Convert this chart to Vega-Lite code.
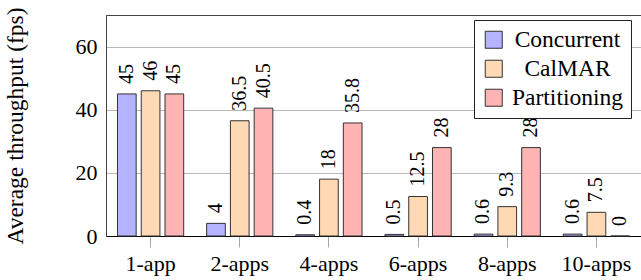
{
  "$schema": "https://vega.github.io/schema/vega-lite/v6.json",
  "autosize": "none",
  "width": 535,
  "height": 221,
  "padding": {"left": 106, "top": 15, "right": 0, "bottom": 44},
  "background": "white",
  "config": {
    "font": "Liberation Serif",
    "view": {"stroke": "#444", "strokeWidth": 1}
  },
  "data": {
    "values": [
      {"app": "1-app", "method": "Concurrent", "fps": 45},
      {"app": "1-app", "method": "CalMAR", "fps": 46},
      {"app": "1-app", "method": "Partitioning", "fps": 45},
      {"app": "2-apps", "method": "Concurrent", "fps": 4},
      {"app": "2-apps", "method": "CalMAR", "fps": 36.5},
      {"app": "2-apps", "method": "Partitioning", "fps": 40.5},
      {"app": "4-apps", "method": "Concurrent", "fps": 0.4},
      {"app": "4-apps", "method": "CalMAR", "fps": 18},
      {"app": "4-apps", "method": "Partitioning", "fps": 35.8},
      {"app": "6-apps", "method": "Concurrent", "fps": 0.5},
      {"app": "6-apps", "method": "CalMAR", "fps": 12.5},
      {"app": "6-apps", "method": "Partitioning", "fps": 28},
      {"app": "8-apps", "method": "Concurrent", "fps": 0.6},
      {"app": "8-apps", "method": "CalMAR", "fps": 9.3},
      {"app": "8-apps", "method": "Partitioning", "fps": 28},
      {"app": "10-apps", "method": "Concurrent", "fps": 0.6},
      {"app": "10-apps", "method": "CalMAR", "fps": 7.5},
      {"app": "10-apps", "method": "Partitioning", "fps": 0}
    ]
  },
  "encoding": {
    "x": {
      "field": "app", "type": "nominal", "sort": null,
      "scale": {"paddingInner": 0, "paddingOuter": 0},
      "axis": {
        "title": null, "labelAngle": 0, "labelFontSize": 22, "labelColor": "black",
        "domainColor": "black", "domainWidth": 1.2, "tickColor": "#aaa", "tickSize": 11,
        "labelPadding": 6, "grid": false
      }
    },
    "xOffset": {
      "field": "method", "type": "nominal",
      "sort": ["Concurrent", "CalMAR", "Partitioning"],
      "scale": {"paddingInner": 0.214, "paddingOuter": 0.483}
    },
    "y": {
      "field": "fps", "type": "quantitative",
      "scale": {"domain": [0, 70], "nice": false},
      "axis": {
        "title": "Average throughput (fps)", "titleFontSize": 23.5, "titleFontWeight": "normal",
        "titleColor": "black", "titleX": -79,
        "values": [0, 20, 40, 60], "labelFontSize": 22, "labelColor": "black",
        "labelPadding": 9, "ticks": false, "domainColor": "#444",
        "gridColor": "#b8b8b8", "gridWidth": 1
      }
    }
  },
  "layer": [
    {
      "mark": {"type": "bar", "stroke": "#333", "strokeWidth": 1},
      "encoding": {
        "color": {
          "field": "method", "type": "nominal",
          "sort": ["Concurrent", "CalMAR", "Partitioning"],
          "scale": {"domain": ["Concurrent", "CalMAR", "Partitioning"], "range": ["#b3b3ff", "#ffd9b3", "#ffb3b3"]},
          "legend": {
            "title": null, "orient": "none", "legendX": 368, "legendY": 5,
            "symbolType": "square", "symbolSize": 290, "symbolStrokeColor": "#333",
            "symbolStrokeWidth": 1, "symbolOpacity": 1,
            "labelFontSize": 23.5, "labelColor": "black", "labelAlign": "center",
            "labelOffset": 62, "labelLimit": 300,
            "rowPadding": 4, "padding": 8, "strokeColor": "#222", "fillColor": "white"
          }
        }
      }
    },
    {
      "mark": {"type": "text", "angle": -90, "align": "left", "baseline": "middle", "dx": 10, "fontSize": 20, "color": "black"},
      "encoding": {
        "text": {"field": "fps", "type": "nominal"}
      }
    }
  ]
}
